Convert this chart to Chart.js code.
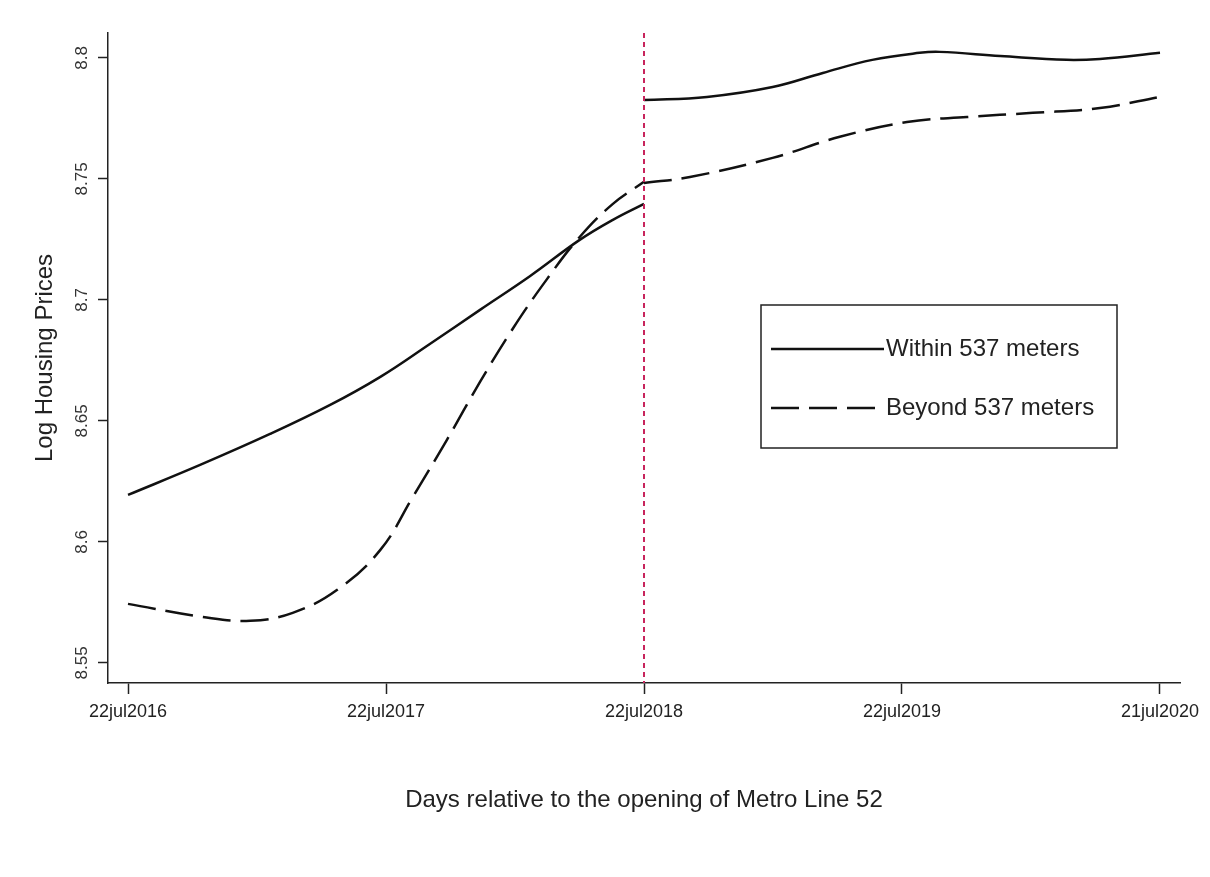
<!DOCTYPE html>
<html>
<head>
<meta charset="utf-8">
<script src="https://cdn.jsdelivr.net/npm/chart.js@4"></script>
<style>
  html, body { margin: 0; padding: 0; background: #fff; }
  #wrap { width: 1210px; height: 877px; }
</style>
</head>
<body>
<div id="wrap"><canvas id="myChart" width="1210" height="877"></canvas></div>
<script>
// days relative to opening (22jul2018 = 0)
const xTickDays = [-730, -365, 0, 365, 730];
const xTickLabels = ['22jul2016', '22jul2017', '22jul2018', '22jul2019', '21jul2020'];
const yTicks = [8.55, 8.6, 8.65, 8.7, 8.75, 8.8];

// within 537 meters
const withinPreDays = [-730, -628, -529, -444, -373, -303, -232, -161, -91, -44, 0];
const withinPreVals = [8.6194, 8.6318, 8.6446, 8.6566, 8.6682, 8.6818, 8.6959, 8.7099, 8.7248, 8.7331, 8.7397];
const withinPostDays = [0, 89, 182, 253, 323, 390, 418, 504, 598, 645, 730];
const withinPostVals = [8.7826, 8.7839, 8.788, 8.7938, 8.7992, 8.8021, 8.8025, 8.8008, 8.7992, 8.7996, 8.8021];

// beyond 537 meters
const beyondPreDays = [-730, -624, -557, -497, -434, -373, -327, -279, -232, -185, -137, -91, -44, 0];
const beyondPreVals = [8.5744, 8.569, 8.5674, 8.5707, 8.5802, 8.5967, 8.6186, 8.6421, 8.6661, 8.6884, 8.7087, 8.726, 8.7397, 8.7488];
const beyondPostDays = [0, 65, 182, 277, 372, 457, 550, 645, 730];
const beyondPostVals = [8.7483, 8.7508, 8.7587, 8.7674, 8.7735, 8.7756, 8.7773, 8.7793, 8.7839];

const openingDay = 0;
const seriesLabels = ['Within 537 meters', 'Beyond 537 meters'];

const toPoints = (days, vals) => days.map((d, i) => ({x: d, y: vals[i]}));

const solidStyle = {
  borderColor: '#111',
  borderWidth: 2.5,
  pointRadius: 0,
  fill: false,
  tension: 0.4
};
const dashStyle = Object.assign({}, solidStyle, {borderDash: [28, 10]});

const data = {
  datasets: [
    Object.assign({label: seriesLabels[0], data: toPoints(withinPreDays, withinPreVals)}, solidStyle),
    Object.assign({label: seriesLabels[0], data: toPoints(withinPostDays, withinPostVals)}, solidStyle),
    Object.assign({label: seriesLabels[1], data: toPoints(beyondPreDays, beyondPreVals)}, dashStyle),
    Object.assign({label: seriesLabels[1], data: toPoints(beyondPostDays, beyondPostVals)}, dashStyle)
  ]
};

const textColor = '#222';
const fontFamily = '"Liberation Sans", Arial, sans-serif';

// vertical opening line, rotated y labels, axis titles, boxed legend
const extras = {
  id: 'extras',
  afterDatasetsDraw(chart) {
    const ctx = chart.ctx;
    const area = chart.chartArea;
    const xs = chart.scales.x;
    const ys = chart.scales.y;

    // opening line
    const px = xs.getPixelForValue(openingDay);
    ctx.save();
    ctx.strokeStyle = '#c8245c';
    ctx.lineWidth = 2;
    ctx.setLineDash([5, 4]);
    ctx.beginPath();
    ctx.moveTo(px, area.top);
    ctx.lineTo(px, area.bottom);
    ctx.stroke();
    ctx.restore();

    // y tick labels, rotated
    ctx.save();
    ctx.fillStyle = '#333';
    ctx.font = '17px ' + fontFamily;
    ctx.textAlign = 'center';
    ctx.textBaseline = 'middle';
    yTicks.forEach((v) => {
      const py = ys.getPixelForValue(v);
      ctx.save();
      ctx.translate(area.left - 26, py);
      ctx.rotate(-Math.PI / 2);
      ctx.fillText(String(v), 0, 0);
      ctx.restore();
    });
    ctx.restore();

    // axis titles
    ctx.save();
    ctx.fillStyle = textColor;
    ctx.font = '24px ' + fontFamily;
    ctx.textAlign = 'center';
    ctx.textBaseline = 'middle';
    ctx.fillText('Days relative to the opening of Metro Line 52', (area.left + area.right) / 2, 800);
    ctx.translate(45, (area.top + area.bottom) / 2);
    ctx.rotate(-Math.PI / 2);
    ctx.fillText('Log Housing Prices', 0, 0);
    ctx.restore();

    // legend box
    const bx = area.left + 653, by = area.top + 272, bw = 356, bh = 143;
    ctx.save();
    ctx.strokeStyle = '#222';
    ctx.lineWidth = 1.5;
    ctx.strokeRect(bx, by, bw, bh);
    ctx.font = '24px ' + fontFamily;
    ctx.fillStyle = textColor;
    ctx.textBaseline = 'middle';
    const rows = [
      {ds: chart.data.datasets[0], y: by + 44},
      {ds: chart.data.datasets[2], y: by + 103}
    ];
    rows.forEach((r) => {
      ctx.strokeStyle = r.ds.borderColor;
      ctx.lineWidth = r.ds.borderWidth;
      ctx.setLineDash(r.ds.borderDash || []);
      ctx.beginPath();
      ctx.moveTo(bx + 10, r.y);
      ctx.lineTo(bx + 123, r.y);
      ctx.stroke();
      ctx.setLineDash([]);
      ctx.fillText(r.ds.label, bx + 125, r.y);
    });
    ctx.restore();
  }
};

const options = {
  responsive: false,
  animation: false,
  layout: {padding: {left: 0, top: 33, right: 30, bottom: 0}},
  plugins: {
    legend: {display: false},
    tooltip: {enabled: false}
  },
  scales: {
    x: {
      type: 'linear',
      min: -758.3,
      max: 758.3,
      afterBuildTicks: (scale) => { scale.ticks = xTickDays.map((v) => ({value: v})); },
      afterFit: (scale) => { scale.height = 194; },
      grid: {drawOnChartArea: false, tickLength: 11, tickWidth: 1.5, tickColor: '#222'},
      border: {color: '#222', width: 1.5},
      ticks: {
        color: textColor,
        font: {family: fontFamily, size: 18},
        padding: 7,
        maxRotation: 0,
        autoSkip: false,
        callback: (v) => {
          const i = xTickDays.indexOf(v);
          return i >= 0 ? xTickLabels[i] : '';
        }
      }
    },
    y: {
      type: 'linear',
      min: 8.5417,
      max: 8.8103,
      afterBuildTicks: (scale) => { scale.ticks = yTicks.map((v) => ({value: v})); },
      afterFit: (scale) => { scale.width = 108; },
      grid: {drawOnChartArea: false, tickLength: 10, tickWidth: 1.5, tickColor: '#222'},
      border: {color: '#222', width: 1.5},
      ticks: {color: 'rgba(0,0,0,0)', font: {family: fontFamily, size: 15}}
    }
  }
};

const config = {
  type: 'line',
  data,
  options,
  plugins: [extras]
};

new Chart(document.getElementById('myChart'), config);
</script>
</body>
</html>
